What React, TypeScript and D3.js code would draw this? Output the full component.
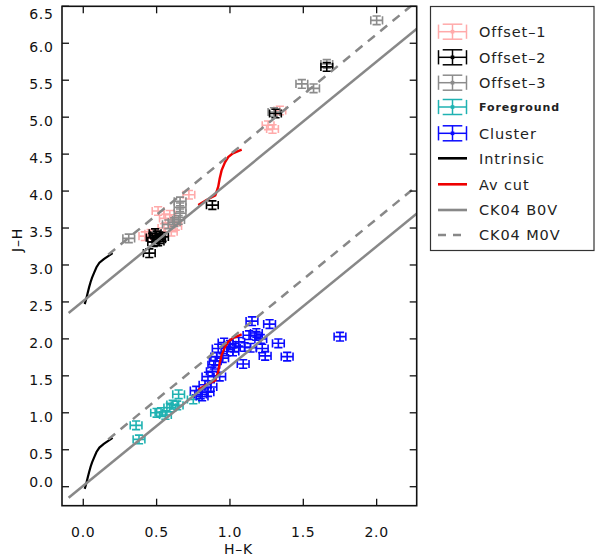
import React from 'react';
import * as d3 from 'd3';

// ---------------- DATA ----------------
const xTicks = [0.0, 0.5, 1.0, 1.5, 2.0];
const yTicks = [0.0, 0.5, 1.0, 1.5, 2.0, 2.5, 3.0, 3.5, 4.0, 4.5, 5.0, 5.5, 6.0, 6.5];

// vertical shift of the upper (offset fields) model curves
const modelShiftJH = 2.5;

const offset1: [number, number][] = [
  [0.42, 3.39], [0.46, 3.42], [0.51, 3.73], [0.56, 3.63], [0.59, 3.68], [0.63, 3.53],
  [0.60, 3.45], [0.55, 3.50], [0.72, 3.95], [1.26, 4.89], [1.29, 4.84], [1.34, 5.09],
];
const offset2: [number, number][] = [
  [0.47, 3.37], [0.50, 3.40], [0.52, 3.35], [0.48, 3.31], [0.54, 3.38], [0.49, 3.43],
  [0.51, 3.32], [0.45, 3.16], [0.88, 3.81], [1.31, 5.05], [1.66, 5.68],
];
const offset3: [number, number][] = [
  [0.31, 3.36], [0.58, 3.55], [0.62, 3.58], [0.65, 3.61], [0.66, 3.70], [0.66, 3.78],
  [0.66, 3.86], [1.30, 5.07], [1.49, 5.45], [1.57, 5.39], [1.66, 5.72], [2.00, 6.31],
];
const foreground: [number, number][] = [
  [0.36, 0.83], [0.38, 0.64], [0.50, 1.00], [0.53, 1.01], [0.56, 0.97], [0.59, 1.07],
  [0.61, 1.11], [0.64, 1.10], [0.65, 1.25], [0.75, 1.18],
];
const cluster: [number, number][] = [
  [1.15, 2.24], [1.27, 2.20], [1.75, 2.03], [1.18, 2.04], [1.21, 2.00], [1.33, 1.94],
  [1.06, 1.96], [1.10, 1.89], [1.14, 1.88], [1.00, 1.92], [0.92, 1.87], [1.02, 1.83],
  [1.22, 1.87], [1.24, 1.77], [1.39, 1.76], [1.09, 1.66], [0.91, 1.76], [0.89, 1.65],
  [0.88, 1.56], [0.85, 1.49], [0.93, 1.49], [0.83, 1.38], [0.77, 1.30], [0.85, 1.28],
  [0.80, 1.25], [0.98, 1.83], [0.95, 1.74], [1.03, 1.88], [1.13, 2.05], [1.18, 2.08],
  [0.81, 1.22], [0.87, 1.35], [0.96, 1.95], [0.90, 1.70],
];
const intrinsic: [number, number][] = [
  [0.010, -0.03], [0.020, 0.04], [0.030, 0.12], [0.040, 0.20], [0.050, 0.27], [0.060, 0.33],
  [0.075, 0.40], [0.090, 0.47], [0.110, 0.53], [0.140, 0.58], [0.170, 0.62], [0.200, 0.66],
];
const avCut: [number, number][] = [
  [0.784, 1.31], [0.84, 1.38], [0.90, 1.44], [0.92, 1.56], [0.93, 1.67], [0.943, 1.78],
  [0.966, 1.89], [0.988, 1.96], [1.02, 2.01], [1.08, 2.06],
];
const ck04B0V: [number, number][] = [[-0.10, -0.15], [2.40, 3.90]];
const ck04M0V: [number, number][] = [[0.17, 0.64], [2.40, 4.275]];

const errHK = 0.04;
const errJH = 0.058;

// ---------------- LAYOUT ----------------
const W = 595, H = 556;
const L = 62, R = 416.7, T = 6.3, B = 505.7;
const FONT = '"DejaVu Sans", Verdana, sans-serif';

const x = d3.scaleLinear().domain([-0.145, 2.273]).range([L, R]);
const y = d3.scaleLinear().domain([-0.257, 6.5]).range([B, T]);

const lineGen = d3.line<[number, number]>().x(d => x(d[0])).y(d => y(d[1])).curve(d3.curveLinear);
const shift = (arr: [number, number][], dy: number): [number, number][] => arr.map(d => [d[0], d[1] + dy]);

function ErrMark({ cx, cy, ex, ey, color, sw = 1.6, dot = false }: any) {
  const capH = ey * 0.95;
  const capW = ex * 0.7;
  return (
    <g stroke={color} strokeWidth={sw} fill="none">
      <line x1={cx - ex} x2={cx + ex} y1={cy} y2={cy} />
      <line x1={cx - ex} x2={cx - ex} y1={cy - capH} y2={cy + capH} />
      <line x1={cx + ex} x2={cx + ex} y1={cy - capH} y2={cy + capH} />
      <line x1={cx} x2={cx} y1={cy - ey} y2={cy + ey} />
      <line x1={cx - capW} x2={cx + capW} y1={cy - ey} y2={cy - ey} />
      <line x1={cx - capW} x2={cx + capW} y1={cy + ey} y2={cy + ey} />
      {dot && <rect x={cx - 1.8} y={cy - 1.8} width={3.6} height={3.6} fill={color} stroke="none" />}
    </g>
  );
}

const COL = {
  off1: '#ffaaaa',
  off2: '#000000',
  off3: '#8c8c8c',
  fg: '#1fb2b2',
  cl: '#0a0aff',
  av: '#ee0000',
  ck: '#888888',
};

function Series({ data, color }: { data: [number, number][]; color: string }) {
  return (
    <g>
      {data.map((d, i) => {
        const cx = x(d[0]);
        const cy = y(d[1]);
        const ex = x(d[0] + errHK) - cx;
        const ey = cy - y(d[1] + errJH);
        return <ErrMark key={i} cx={cx} cy={cy} ex={ex} ey={ey} color={color} />;
      })}
    </g>
  );
}

function yLabelBaseline(t: number) {
  const base = y(t) + 9;
  return Math.min(Math.max(base, 19.3), 487);
}

export default function App() {
  const legendRows = [
    { label: 'Offset\u20131', kind: 'err', color: COL.off1 },
    { label: 'Offset\u20132', kind: 'err', color: COL.off2 },
    { label: 'Offset\u20133', kind: 'err', color: COL.off3 },
    { label: 'Foreground', kind: 'err', color: COL.fg, bold: true },
    { label: 'Cluster', kind: 'err', color: COL.cl },
    { label: 'Intrinsic', kind: 'line', color: '#000' },
    { label: 'Av cut', kind: 'line', color: COL.av },
    { label: 'CK04 B0V', kind: 'line', color: COL.ck },
    { label: 'CK04 M0V', kind: 'dash', color: COL.ck },
  ];
  const rowY = [31.7, 57.3, 82.7, 107, 133.3, 158.3, 184.3, 210, 235];

  return (
    <svg width={W} height={H} style={{ display: 'block', position: 'absolute', left: 0, top: 0 }} fontFamily={FONT}>
      <defs>
        <clipPath id="plotclip">
          <rect x={L} y={T} width={R - L} height={B - T} />
        </clipPath>
      </defs>
      <rect x={0} y={0} width={W} height={H} fill="#fff" />

      <g clipPath="url(#plotclip)">
        <Series data={offset1} color={COL.off1} />
        <Series data={offset3} color={COL.off3} />
        <Series data={offset2} color={COL.off2} />
        <Series data={foreground} color={COL.fg} />
        <Series data={cluster} color={COL.cl} />

        <path d={lineGen(intrinsic) || ''} fill="none" stroke="#000" strokeWidth={2.2} />
        <path d={lineGen(shift(intrinsic, modelShiftJH)) || ''} fill="none" stroke="#000" strokeWidth={2.2} />
        <path d={lineGen(avCut) || ''} fill="none" stroke={COL.av} strokeWidth={2.4} />
        <path d={lineGen(shift(avCut, modelShiftJH)) || ''} fill="none" stroke={COL.av} strokeWidth={2.4} />

        <path d={lineGen(ck04B0V) || ''} fill="none" stroke={COL.ck} strokeWidth={2.5} />
        <path d={lineGen(shift(ck04B0V, modelShiftJH)) || ''} fill="none" stroke={COL.ck} strokeWidth={2.5} />
        <path d={lineGen(ck04M0V) || ''} fill="none" stroke={COL.ck} strokeWidth={2.5} strokeDasharray="9,7" />
        <path d={lineGen(shift(ck04M0V, modelShiftJH)) || ''} fill="none" stroke={COL.ck} strokeWidth={2.5} strokeDasharray="9,7" />
      </g>

      {/* frame */}
      <rect x={L} y={T} width={R - L} height={B - T} fill="none" stroke="#111" strokeWidth={1.6} />

      {/* ticks */}
      {xTicks.map(t => (
        <g key={'x' + t}>
          <line x1={x(t)} x2={x(t)} y1={B} y2={B - 7} stroke="#111" strokeWidth={1.3} />
          <line x1={x(t)} x2={x(t)} y1={T} y2={T + 7} stroke="#111" strokeWidth={1.3} />
          <text x={x(t)} y={537} textAnchor="middle" fontSize={14} letterSpacing={0.7} fill="#111">
            {t.toFixed(1)}
          </text>
        </g>
      ))}
      {yTicks.map(t => (
        <g key={'y' + t}>
          <line x1={L} x2={L + 7} y1={y(t)} y2={y(t)} stroke="#111" strokeWidth={1.3} />
          <line x1={R} x2={R - 7} y1={y(t)} y2={y(t)} stroke="#111" strokeWidth={1.3} />
          <text x={53.5} y={yLabelBaseline(t)} textAnchor="end" fontSize={14} letterSpacing={0.7} fill="#111">
            {t.toFixed(1)}
          </text>
        </g>
      ))}

      <text x={238.5} y={554} textAnchor="middle" fontSize={14} letterSpacing={0.8} fill="#111">H{'\u2013'}K</text>
      <text transform="translate(22,240) rotate(-90)" textAnchor="middle" fontSize={14} letterSpacing={0.8} fill="#111">J{'\u2013'}H</text>

      {/* legend */}
      <rect x={430.5} y={6.5} width={163.5} height={244} fill="#fff" stroke="#333" strokeWidth={1.2} />
      {legendRows.map((r, i) => {
        const cy = rowY[i];
        let sym;
        if (r.kind === 'err') {
          sym = <ErrMark cx={452.5} cy={cy} ex={14} ey={7.5} color={r.color} sw={1.5} dot={true} />;
        } else if (r.kind === 'line') {
          sym = <line x1={438} x2={467} y1={cy} y2={cy} stroke={r.color} strokeWidth={2.6} />;
        } else {
          sym = <line x1={438} x2={467} y1={cy} y2={cy} stroke={r.color} strokeWidth={2.6} strokeDasharray="8,7" />;
        }
        return (
          <g key={r.label}>
            {sym}
            <text
              x={479}
              y={cy + (r.bold ? 4 : 5.2)}
              fontSize={r.bold ? 11 : 14.5}
              fontWeight={r.bold ? 'bold' : 'normal'}
              letterSpacing={0.9}
              fill="#222"
            >
              {r.label}
            </text>
          </g>
        );
      })}
    </svg>
  );
}
